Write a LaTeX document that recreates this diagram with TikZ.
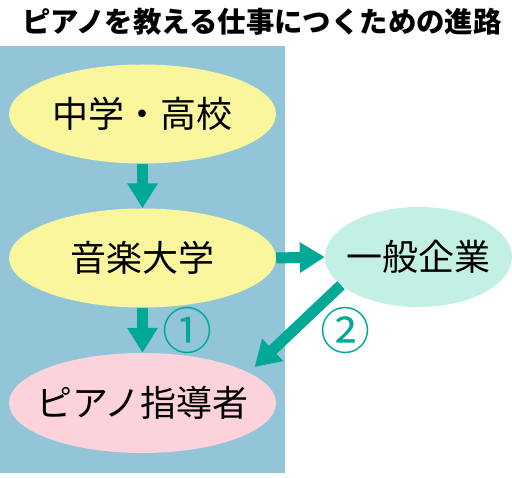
\documentclass[tikz,border=0pt]{standalone}
\usepackage{fontspec}
\newfontfamily\cjk{Noto Sans CJK JP}
\usetikzlibrary{shapes.geometric,arrows.meta}
\definecolor{panelblue}{HTML}{92C5D8}
\definecolor{ylw}{HTML}{F9F69E}
\definecolor{mint}{HTML}{C3F0E5}
\definecolor{pinkish}{HTML}{FCD2DB}
\definecolor{teal2}{HTML}{00A896}
\tikzset{
  oval/.style={ellipse, inner sep=0pt, minimum width=267pt, minimum height=99pt},
  ovaltext/.style={font=\cjk\fontsize{36}{40}\selectfont, inner sep=0pt},
  bigarrow/.style={draw=teal2, line width=11pt, -{Triangle[width=29pt,length=25pt]}},
  numlabel/.style={text=teal2, font=\cjk\fontsize{50}{54}\selectfont, inner sep=0pt}
}
\begin{document}
\begin{tikzpicture}[x=1pt,y=-1pt]
\useasboundingbox (0,0) rectangle (512,478);
\fill[panelblue] (0,46) rectangle (285,473);
\node[font=\cjk\bfseries\fontsize{28.4}{32}\selectfont, inner sep=0pt] (title) at (262,22) {ピアノを教える仕事につくための進路};
\node[oval, fill=ylw] (hs) at (142.5,114) {};
\node[oval, fill=ylw] (uni) at (142.5,258) {};
\node[oval, fill=mint, minimum width=187pt, minimum height=100pt] (corp) at (418.5,257) {};
\node[oval, fill=pinkish, minimum height=100pt] (piano) at (142.5,403) {};
\node[ovaltext] (hst) at (hs) {中学・高校};
\node[ovaltext] (unit) at (uni) {音楽大学};
\node[ovaltext] (corpt) at (corp) {一般企業};
\node[ovaltext] (pianot) at (piano) {ピアノ指導者};
\draw[bigarrow] (hs.south) -- (uni.north);
\draw[bigarrow] (uni.east) -- (corp.west);
\draw[bigarrow] (uni.south) -- (piano.north);
\draw[bigarrow, shorten >=8pt] (corp.200) -- (piano.16);
\node[numlabel] (n1) at (187,331) {①};
\node[numlabel] (n2) at (345,331) {②};
\end{tikzpicture}
\end{document}
